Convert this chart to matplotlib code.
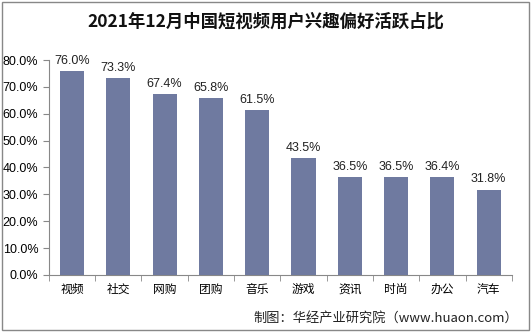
import matplotlib.pyplot as plt
from matplotlib.patches import Rectangle
from matplotlib.ticker import FuncFormatter

plt.rcParams['font.family'] = ['Noto Sans CJK SC', 'DejaVu Sans']

categories = ["视频", "社交", "网购", "团购", "音乐", "游戏", "资讯", "时尚", "办公", "汽车"]
values = [76.0, 73.3, 67.4, 65.8, 61.5, 43.5, 36.5, 36.5, 36.4, 31.8]
y_ticks = [0, 10, 20, 30, 40, 50, 60, 70, 80]

BAR_COLOUR = "#6f7aa0"
NUM_FONT = "Liberation Sans"

fig = plt.figure(figsize=(5.31, 3.32), dpi=100)
ax = fig.add_axes([0.092, 0.172, 0.872, 0.647])

x = list(range(len(categories)))
ax.bar(x, values, width=0.52, color=BAR_COLOUR, zorder=3)
for xi, v in zip(x, values):
    ax.text(xi, v + 1.5, f"{v:.1f}%", ha="center", va="bottom", fontsize=9,
            family=NUM_FONT, color="#222222")

ax.set_xlim(-0.5, len(categories) - 0.5)
ax.set_ylim(0, 80)
ax.set_yticks(y_ticks)
ax.yaxis.set_major_formatter(FuncFormatter(lambda v, p: f"{v:.1f}%"))
ax.set_xticks(x)
ax.set_xticklabels(categories, fontsize=8.5)
ax.set_xticks([i - 0.5 for i in range(len(categories) + 1)], minor=True)
ax.tick_params(axis="x", which="major", length=0, pad=6)
ax.tick_params(axis="x", which="minor", length=4, direction="out", color="#888888")
ax.tick_params(axis="y", length=4, direction="out", color="#888888", labelsize=9)
for lab in ax.get_yticklabels():
    lab.set_family(NUM_FONT)
for side in ("top", "right"):
    ax.spines[side].set_visible(False)
for side in ("left", "bottom"):
    ax.spines[side].set_color("#888888")
    ax.spines[side].set_linewidth(0.8)

fig.text(0.5, 0.935, "2021年12月中国短视频用户兴趣偏好活跃占比",
         ha="center", va="center", fontsize=12.5, fontweight="bold", color="#111111")
fig.text(0.975, 0.042, "制图：华经产业研究院（www.huaon.com）",
         ha="right", va="center", fontsize=9.5, color="#222222")

fig.patches.append(Rectangle((0.003, 0.005), 0.994, 0.99, transform=fig.transFigure,
                             fill=False, edgecolor="#888888", linewidth=1.0))

fig.savefig("out.png", dpi=100, facecolor="white")
